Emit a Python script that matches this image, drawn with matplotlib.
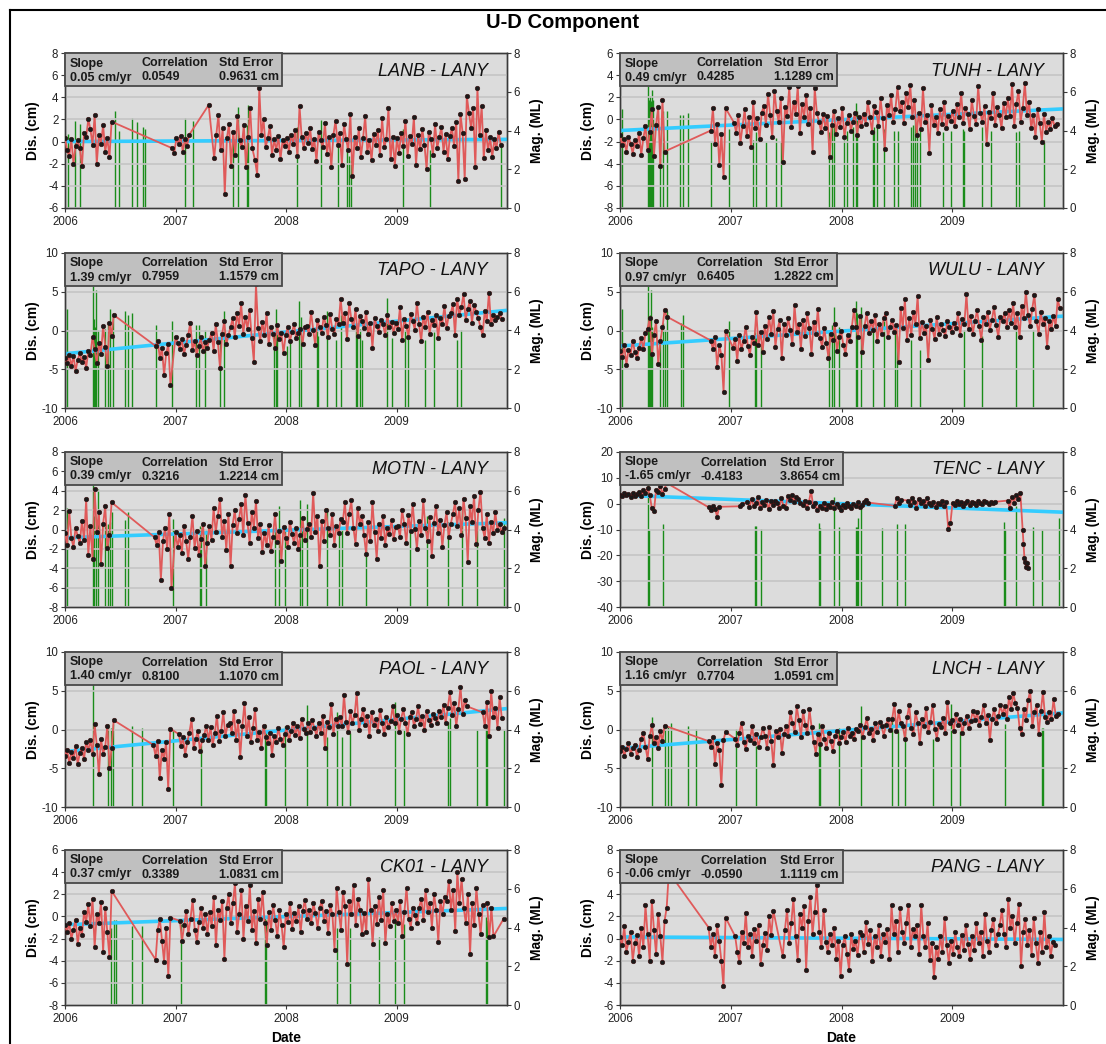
#GPS U-D component time series, 10 baselines relative to LANY, with nearby earthquakes
from matplotlib import pyplot as plt
from matplotlib.patches import Rectangle
from matplotlib.lines import Line2D

plt.rcParams['font.family'] = ['Liberation Sans', 'DejaVu Sans']
plt.rcParams['axes.unicode_minus'] = False

stations = ['LANB - LANY', 'TUNH - LANY', 'TAPO - LANY', 'WULU - LANY', 'MOTN - LANY',
            'TENC - LANY', 'PAOL - LANY', 'LNCH - LANY', 'CK01 - LANY', 'PANG - LANY']
slopes = ['0.05 cm/yr', '0.49 cm/yr', '1.39 cm/yr', '0.97 cm/yr', '0.39 cm/yr',
          '-1.65 cm/yr', '1.40 cm/yr', '1.16 cm/yr', '0.37 cm/yr', '-0.06 cm/yr']
correlations = ['0.0549', '0.4285', '0.7959', '0.6405', '0.3216',
                '-0.4183', '0.8100', '0.7704', '0.3389', '-0.0590']
std_errors = ['0.9631 cm', '1.1289 cm', '1.1579 cm', '1.2822 cm', '1.2214 cm',
              '3.8654 cm', '1.1070 cm', '1.0591 cm', '1.0831 cm', '1.1119 cm']
y_lo = [-6, -8, -10, -10, -8, -40, -10, -10, -8, -6]
y_hi = [8, 6, 10, 10, 8, 20, 10, 10, 6, 8]
y_step = [2, 2, 5, 5, 2, 10, 5, 5, 2, 2]
trend_2006 = [0.0, -1.0, -3.0, -2.0, -0.85, 3.3, -2.85, -2.45, -0.75, 0.15]   #fit line at 2006.0
trend_2010 = [0.2, 0.95, 2.6, 1.85, 0.7, -3.3, 2.7, 2.15, 0.72, -0.08]       #fit line at 2010.0

#segments: (start year, step in days, displacement values cm)
lanb_segs = [
    (2006.00, 7, "0.3 -0.8 -1.3 0.2 -2.0 -0.4 0.1 -0.6 -2.2 0.8 0.4 2.0 1.1 -0.3 2.4 -2.0 0.6 -0.2 1.5 -0.9 0.3 -1.4 1.8"),
    (2006.97, 7, "-0.6 -1.0 0.3 -0.2 0.5 -0.9 0.2 -0.4 0.6"),
    (2007.30, 7, "3.3"),
    (2007.35, 7, "-1.5 0.6 2.4 -0.8 1.2 -4.7 0.3 1.6 -2.2 0.9 -1.2 2.3 0.1 -0.5 1.5 -2.3 0.4 3.0 -0.6"),
    (2007.72, 7, "-1.7 -3.0 4.8 0.6 2.0 -0.5 0.3 1.4 -1.2 0.2 -0.8 0.5 -1.6 0.1 -0.4 "
                 "0.3 -0.9 0.6 -0.2 1.0 -1.3 3.2 0.4 -0.6 0.8 -0.1 1.2 -0.7 0.2 -1.8 0.9 0.1 -0.5 1.7 -1.1 0.4 -2.3 0.6 1.9 -0.3 0.8 "
                 "-2.1 1.6 0.2 -0.8 2.5 -3.1 0.4 -0.6 1.2 -1.4 0.3 2.3 -0.9 0.1 -1.7 0.7 -0.3 1.0 -1.2 2.1 -0.5 0.2 3.0 -1.6 0.4 -2.2 "
                 "0.3 -1.0 0.8 -0.4 1.9 -1.3 0.5 -0.2 2.2 -2.1 0.6 -0.7 1.1 -0.3 -2.5 0.9 0.2 -1.2 1.6 -0.6 0.4 1.3 -0.9 0.7 -1.6 0.5 "
                 "1.2 -0.4 1.8 -3.6 2.5 0.8 -3.4 4.1 2.6 1.2 3.0 -2.3 4.8 0.6 3.2 -1.5 1.0 -0.8 0.4 -1.4 0.2 -0.6 0.9 -0.3"),
]
tunh_segs = [
    (2006.00, 7, "-1.4 -2.3 -1.8 -2.9 -1.6 -2.2 -3.1 -1.9 -2.4 -1.2 -3.2 -1.7 -0.6 -2.8 -1.1 0.9 -3.3 -0.5 1.1 -4.2 1.8 -2.9"),
    (2006.82, 7, "-1.0 1.0 -2.2 -0.4 -4.1 -1.3 -5.2 1.0"),
    (2007.03, 7, "-0.3 -1.2 0.4 -2.1 -0.6 0.9 -1.5 0.2 -2.5 1.6 -0.8 0.1 -1.8 0.6 "
                 "1.2 -0.5 2.3 0.4 -1.6 2.6 0.8 -0.2 1.9 -3.8 1.1 0.3 2.9 -0.7 1.6 0.5 3.0 -1.2 1.4 0.2 2.2 -0.4 1.0 -2.9 2.8 0.6 "
                 "-0.2 -1.1 0.5 -0.8 0.3 -3.4 -0.5 0.8 -1.3 0.1 -0.7 1.0 -1.6 -0.3 0.4 -1.0 -0.2 0.6 -1.4 0.2 -0.6 "
                 "0.5 -0.4 1.6 0.2 -1.1 1.2 0.7 -0.6 1.9 0.1 -2.7 1.3 0.4 2.2 -0.2 0.9 "
                 "2.9 0.8 1.6 -0.3 2.4 1.1 3.1 0.2 1.8 -1.4 "
                 "0.6 -0.9 2.8 -0.2 0.4 -3.0 1.3 -0.5 0.2 -1.2 0.9 -0.4 1.6 -0.8 0.3 -0.1 "
                 "0.8 -0.6 1.4 0.2 2.4 -0.3 1.0 0.5 -0.9 1.8 0.3 -0.4 3.0 0.6 -0.2 1.2 -2.2 0.7 0.1 2.4 -0.5 1.1 0.4 -0.8 1.5 0.2 "
                 "1.9 0.3 3.2 -0.6 1.4 2.6 -0.2 1.0 3.3 0.4 "
                 "1.6 -0.8 0.4 -1.6 0.9 -0.3 -2.0 0.5 -1.1 -0.2 -0.9 0.1 -0.6 -0.4"),
]
tapo_segs = [
    (2006.00, 7, "-3.6 -4.2 -3.1 -4.6 -3.3 -5.2 -3.8 -2.9 -4.1 -3.4 -4.8 -2.6 -3.2 -0.8 -2.4 -4.2 -1.6 -3.0 0.6 -2.1 -4.6 1.0 -0.7 2.0"),
    (2006.82, 7, "-2.0 -1.3 -3.6 -2.2 -5.8 -2.9 -1.8 -7.0"),
    (2007.00, 7, "-0.8 -1.6 -2.4 -1.1 -3.0 -1.9 -0.6 1.0 -2.5 -1.4 -3.1 -2.0 -0.9 -2.7 -1.5 -2.2 "
                 "-1.2 -0.3 -2.6 0.8 -1.5 -4.8 -0.5 1.2 -1.8 -0.6 "
                 "0.4 1.6 -0.9 2.3 0.6 3.5 -0.4 1.8 0.2 2.7 "
                 "-1.0 -4.0 6.0 0.3 -1.3 1.1 -0.6 2.2 -1.8 0.5 -0.4 -2.2 0.7 -1.1 -0.3 -2.9 "
                 "-0.6 0.4 -1.4 -0.2 0.8 -1.0 -0.3 0.2 -1.7 0.5 "
                 "0.6 -0.5 2.4 0.1 -1.9 1.3 0.4 -0.3 1.8 0.7 -0.8 2.1 0.2 -0.4 1.5 0.9 "
                 "4.1 1.0 2.2 -1.1 3.6 1.5 0.4 2.8 -0.7 1.9 "
                 "1.2 0.3 2.4 -0.5 1.0 -2.2 1.6 0.6 -0.2 1.4 0.8 -0.6 2.0 0.4 1.1 -0.3 "
                 "1.0 0.2 3.0 -1.2 1.5 0.6 -0.8 2.1 1.2 0.1 3.6 0.8 -1.4 1.8 0.5 2.4 -0.4 1.3 0.7 2.0 -1.0 1.6 0.9 3.2 0.3 1.9 "
                 "2.2 3.4 -0.6 4.1 2.0 3.0 4.7 1.4 2.8 3.8 1.0 3.3 2.4 "
                 "1.6 0.4 -0.6 2.5 1.2 4.9 0.8 2.0 1.3 1.7 2.2 1.5"),
]
wulu_segs = [
    (2006.00, 7, "-2.7 -3.4 -1.9 -4.4 -2.5 -3.1 -1.3 -2.8 -3.6 -2.2 -1.0 -2.4 -0.3 0.2 1.6 -3.0 -0.6 1.2 -4.3 -1.4 0.4 2.6 1.8"),
    (2006.82, 7, "-1.3 -2.4 -0.8 -4.7 -1.9 -3.2 -7.9 -0.1"),
    (2007.02, 7, "-2.2 -1.1 -3.9 -0.6 -2.4 -1.3 0.5 -2.0 -3.1 -0.9 -1.6 2.4 -1.9 -0.2 -2.8 "
                 "0.6 -1.1 1.8 -0.5 2.5 -2.1 0.2 1.3 -3.5 0.8 -0.6 1.6 0.1 -1.8 3.3 -0.2 0.9 -2.4 1.4 -0.7 2.2 0.3 -3.0 1.1 -0.4 2.8 "
                 "-1.0 -2.1 0.3 -1.6 -3.5 -0.4 -1.2 0.8 -2.6 -0.8 -0.1 -1.9 -3.0 -0.6 -1.4 0.4 "
                 "2.7 0.4 -0.8 1.9 -2.8 0.6 2.3 -0.3 1.2 0.1 2.0 -1.4 0.8 -0.5 1.6 2.2 -0.9 0.5 1.4 -0.2 0.7 "
                 "-4.0 2.9 0.3 4.0 -1.2 1.6 -0.6 2.4 0.8 4.4 -1.0 1.1 -0.3 "
                 "0.6 -3.8 1.4 0.2 -1.1 1.8 -0.4 0.9 0.1 -0.7 1.2 0.4 -0.2 "
                 "1.0 0.3 2.2 -0.6 1.5 0.8 4.7 0.2 1.9 -0.4 1.2 2.6 0.6 -1.2 1.7 0.9 2.4 0.1 1.4 3.0 0.7 -0.8 1.8 1.2 2.3 0.5 "
                 "2.6 1.0 3.5 0.4 2.2 -0.9 3.1 1.6 5.0 2.0 0.6 2.8 4.6 1.2 -0.4 2.4 "
                 "0.8 1.6 -2.1 1.2 0.2 1.9 0.6 4.0 2.9"),
]
motn_segs = [
    (2006.00, 7, "-0.4 -1.6 1.9 -0.9 -1.8 0.2 -0.7 -1.4 0.9 -1.1 3.1 -2.6 0.4 -3.0 4.2 -0.3 1.8 -3.6 0.6 2.4 -1.9 -0.6 2.8"),
    (2006.81, 7, "-0.8 -1.6 -0.3 -5.2 -1.2 0.2 -2.0 1.6 -6.0"),
    (2007.00, 7, "-0.3 -1.8 -0.6 -2.4 0.4 -1.2 -3.0 -0.8 1.4 -1.9 -0.2 -2.6 -1.0 0.6 -3.8 -1.4 "
                 "0.4 -1.1 2.2 -0.3 1.4 3.2 -0.8 0.9 -2.1 1.6 -3.8 0.5 2.0 -0.4 1.1 2.6 -0.6 3.6 0.7 -1.4 1.8 0.2 2.9 -0.9 0.6 -2.3 "
                 "-0.4 -1.6 0.5 -2.2 -0.8 1.6 -1.3 -0.2 -3.2 0.3 -0.9 -1.8 0.8 -0.5 -1.4 0.2 -2.0 -0.6 1.2 -1.1 0.1 "
                 "0.6 -0.8 3.8 -0.3 1.4 -3.8 0.9 -1.2 2.0 0.2 -0.6 1.6 -1.6 0.4 -0.4 1.1 "
                 "0.8 2.8 -0.4 1.6 3.0 0.2 -1.5 2.2 0.6 1.4 "
                 "-0.6 -2.5 0.8 -1.2 2.8 -0.3 -3.0 0.6 -0.9 1.4 -1.6 0.2 -0.5 1.0 -1.0 0.3 "
                 "0.4 -0.8 2.0 0.6 -1.4 1.5 -0.2 2.6 0.1 -2.0 0.9 -0.6 3.0 0.2 -1.2 1.3 -2.7 0.7 2.4 -0.4 1.0 -1.8 0.5 1.8 -0.8 0.6 "
                 "1.6 2.8 0.4 2.2 -0.6 3.2 1.2 -3.4 2.4 0.8 3.5 -1.5 2.0 "
                 "3.9 0.2 -0.9 1.6 -1.4 0.8 -0.4 1.8 0.0 0.6 -0.3 0.2"),
]
tenc_segs = [
    (2006.00, 7, "3.4 2.8 4.1 3.2 3.8 2.6 4.3 3.0 3.6 4.4 3.1 5.2 4.0 6.1 3.3 -1.8 -3.0 5.4 4.6 6.8 3.9 5.8 8.0"),
    (2006.80, 7, "-1.4 -2.6 -0.8 -1.9 -5.0 -1.2"),
    (2007.08, 7, "-1.0 -0.2"),
    (2007.15, 7, "0.6 -1.4 1.8 -0.9 0.2 2.4 -1.8 0.5 -0.4 1.6 -2.2 0.9 -0.6 1.2 0.1 -1.5 2.0 -0.8 "
                 "-1.6 2.8 1.6 3.2 0.8 2.4 1.9 0.2 "
                 "-0.4 1.2 -1.8 0.6 5.0 -1.0 0.4 -2.6 "
                 "-0.8 -1.6 0.4 -2.2 -0.6 -1.2 0.8 -1.8 -0.3 -1.1 -2.4 -0.5 -1.4 0.2 -0.9 -1.7 -0.2 -1.0 0.5 -1.3 -0.4 0.8 1.6 0.4"),
    (2008.48, 7, "-0.8 2.2 0.4 1.5"),
    (2008.60, 7, "1.2 -0.4 2.3 0.6 -1.6 1.8 0.3 1.0 -0.8 2.0 "
                 "0.2 -0.6 0.8 -1.2 0.4 -0.3 1.1 -0.8 0.5 -9.8 -7.6 0.3 -0.5 0.9 -0.2 0.6 -1.0 0.4 1.2 -0.4 0.8 0.1 "
                 "-0.6 1.0 0.3 -0.2 0.9 0.5 -0.3 0.6 0.2 0.7"),
    (2009.50, 7, "1.2 -1.8 2.6 0.4 3.4 1.8 4.1"),
    (2009.635, 3, "-10.0 -15.6 -21.0 -22.4 -24.6 -23.1 -25.0"),
]
paol_segs = [
    (2006.00, 7, "-3.4 -2.6 -4.3 -2.9 -3.7 -2.1 -4.5 -3.0 -2.4 -3.8 -1.6 -2.7 -1.4 -3.2 0.7 -2.0 -5.8 -1.2 -3.1 -2.2 0.5 -5.0 -2.4 1.2"),
    (2006.80, 7, "-2.0 -3.4 -1.5 -6.3 -2.6 -3.8 -1.6 -7.7 0.1"),
    (2007.03, 7, "-0.6 -2.1 -1.0 -3.3 -1.6 -0.4 1.3 -2.4 -1.2 -0.2 -2.8 -1.4 -0.7 0.5 "
                 "-1.3 0.3 -2.0 -0.5 1.8 -1.5 -0.2 2.2 -0.9 0.6 "
                 "0.8 -0.4 2.4 -1.3 1.1 -3.5 0.5 3.4 -0.8 1.6 -1.6 0.2 2.6 "
                 "-1.4 -0.3 -2.4 0.5 -1.0 -1.8 -0.4 -3.3 -0.8 -1.6 0.2 -1.2 -2.0 "
                 "-0.6 0.3 -1.4 -0.2 0.9 -0.7 0.4 -1.1 1.4 0.1 -0.5 0.8 -0.3 1.2 0.2 -0.8 "
                 "0.9 -0.4 1.8 -2.4 1.0 0.3 3.3 -0.6 1.4 0.5 "
                 "1.6 0.4 4.5 1.0 -0.3 2.4 0.8 1.9 4.7 -0.1 1.3 2.6 0.6 1.8 -0.8 2.2 "
                 "0.6 1.4 -0.2 2.5 0.8 -0.6 1.6 0.3 1.1 3.0 "
                 "0.8 1.9 -0.3 1.4 2.6 0.9 -0.6 1.6 2.2 0.5 1.3 3.0 0.7 1.8 -0.1 2.4 1.2 0.6 2.0 1.5 0.9 "
                 "2.4 1.6 3.2 0.8 2.8 4.8 1.9 3.4 0.4 2.6 5.5 2.0 3.8 3.0"),
    (2009.78, 7, "2.2 0.4 3.6 -0.9 5.0 1.6 2.8 0.2 4.2 1.5"),
]
lnch_segs = [
    (2006.00, 7, "-2.8 -2.2 -3.4 -2.5 -1.8 -3.1 -2.4 -2.0 -3.5 -2.6 -1.2 -0.4 -2.2 -3.8 -0.9 0.6 -1.8 -1.0 -2.4 -0.2 -1.5 0.5"),
    (2006.80, 7, "-1.5 -2.3 -1.0 -4.5 -1.8 -2.6 -7.2 -1.4 -0.3"),
    (2007.04, 7, "-1.2 -2.0 -0.4 0.9 -1.6 -2.5 -0.8 -1.3 0.4 -1.8 -0.6 -2.2 -1.0 0.2 "
                 "-0.8 -2.4 0.3 -1.5 -4.6 -0.2 -1.0 0.1 -3.0 -0.6 "
                 "0.4 -0.8 2.2 0.9 -0.3 3.0 1.2 -1.0 2.4 0.6 -0.5 2.6 0.3 "
                 "-1.6 -3.1 -0.6 -1.9 0.5 -1.2 -2.4 -0.4 -1.5 -2.8 -0.9 -0.2 -1.7 "
                 "-1.0 -0.3 -1.6 0.2 -0.8 -0.4 -1.2 0.1 "
                 "-0.2 0.6 -1.0 0.3 1.5 -0.5 0.1 -1.4 0.8 -0.3 1.0 0.4 -0.8 0.6 1.3 0.0 "
                 "1.4 3.3 -0.2 2.4 0.8 "
                 "0.4 -1.2 1.6 3.1 0.2 -0.6 2.2 0.9 -1.8 1.3 0.5 2.8 -0.3 1.0 3.2 0.1 -1.2 0.7 "
                 "0.3 1.5 -0.4 3.6 0.8 1.2 -0.2 2.0 0.6 1.4 -0.5 0.9 1.8 0.2 1.1 2.4 "
                 "1.2 2.2 0.6 1.6 3.2 0.9 1.9 -1.4 1.4 2.6 0.8 1.7 3.1 "
                 "2.0 3.0 1.4 4.2 2.6 4.7 3.4 2.8 "
                 "0.2 -0.6 2.6 1.2 3.8 5.0 0.4 2.2 3.2 -0.6 "
                 "2.4 4.8 1.6 1.0 2.2 1.4 3.9 1.8 2.0"),
]
ck01_segs = [
    (2006.00, 7, "-0.8 -1.4 -0.6 -2.0 -1.2 -0.3 -2.5 -1.0 -1.7 0.4 -0.5 1.1 -0.9 1.6 -2.8 0.2 -0.6 1.3 -3.2 0.8 -1.4 -3.7 2.3"),
    (2006.82, 7, "-3.9 -1.2 -0.2 -2.2 -4.1 -1.0 -5.4 -0.1"),
    (2007.04, 7, "-0.4 -2.2 -0.8 0.5 -1.6 -0.2 1.5 -1.2 -2.3 -0.5 0.8 -1.0 0.2 -1.6 "
                 "0.4 -0.9 1.8 -2.6 0.6 -0.3 1.4 -3.8 0.8 2.0 -0.6 1.2 3.0 -1.4 0.2 2.4 -2.0 0.9 -0.4 2.8 -1.2 0.5 -2.4 1.6 -0.2 2.2 "
                 "-0.6 -2.6 0.4 -1.2 1.0 -0.3 -1.8 0.6 -0.8 -2.8 0.2 -0.5 1.2 -1.1 0.3 -0.4 0.9 -1.4 0.5 1.5 -0.2 "
                 "0.6 -0.6 1.2 0.3 -1.0 0.8 1.4 -0.4 0.5 -1.5 1.0 0.2 -3.0 "
                 "2.6 0.4 -1.2 2.2 0.9 -4.3 1.4 0.2 2.8 -0.8 1.6 0.6 -1.6 "
                 "0.3 -1.4 3.4 0.6 -2.5 0.9 -0.7 1.8 -0.3 2.4 -2.4 0.2 -0.9 1.2 -0.4 0.6 "
                 "-0.6 1.4 -1.8 0.4 2.6 -0.2 -1.0 0.8 0.1 -0.6 "
                 "0.8 1.6 -0.3 2.4 0.4 1.2 -1.0 2.0 0.6 -2.3 1.4 0.2 1.8 "
                 "1.4 3.2 0.6 2.4 -1.3 4.0 1.2 3.4 "
                 "0.8 -0.6 2.0 -3.4 1.2 -0.8 2.6 0.2 -1.6 1.0"),
    (2009.82, 7, "1.2 -1.9 0.8 -1.8"),
    (2009.97, 7, "-0.2"),
]
pang_segs = [
    (2006.00, 7, "0.1 -0.6 1.1 -1.2 -0.3 0.6 -2.0 -0.4 0.3 -1.6 1.0 -0.8 3.0 0.4 -2.0 3.4 0.8 -1.4 2.2 0.2 -2.1 1.6 2.8 6.0"),
    (2006.80, 7, "1.0 -0.8 0.4 -1.6 1.2 -0.2 -2.0 -4.3 1.9"),
    (2007.04, 7, "0.2 -1.2 -2.1 0.6 -0.4 2.3 -0.8 0.4 -1.6 0.9 -0.2 1.2 -2.3 -0.6 0.5 -1.0 2.0 0.3 2.5"),
    (2007.47, 7, "-1.6 0.8 2.6 -0.4 1.4 3.6 0.2 -1.9 2.2 1.0 2.9 -2.8 1.6 3.8 0.4 2.4 4.8"),
    (2007.80, 7, "0.6 -0.8 2.6 -0.3 -1.2 0.4 -0.6 1.0 -1.8 -0.2 "
                 "-3.4 -0.6 0.2 -1.4 -2.8 0.4 -0.9 -0.2 -1.5 0.6 "
                 "0.3 -1.2 1.5 -0.5 0.8 -2.0 0.2 -0.8 1.2 -1.6 0.4 -0.3 0.9 "
                 "-1.8 3.0 0.4 1.6 -1.2 2.8 0.6 -0.4 1.4 3.0 -0.8 0.9 0.2 "
                 "1.2 -1.4 3.0 0.2 -0.8 1.4 -1.9 -0.4 "
                 "-3.5 -0.8 -1.8 0.2 -1.2 1.9 -0.6 -2.2 -0.2 -1.4 0.6 -0.8 -1.6 0.3 -1.0 1.2 -0.5 -1.8 "
                 "0.2 -1.0 1.4 -0.4 0.6 -1.6 2.2 -0.2 -1.2 0.8 1.8 -0.6 0.4 "
                 "1.2 2.6 0.4 -0.8 3.6 1.0 2.0 -0.4 1.4 3.1 -2.5 0.6 1.8 "
                 "-0.6 0.8 -1.5 1.9 -0.4 -2.2 0.6 -1.2 2.4 -0.8 0.2 -1.6 -0.3 -0.6"),
]

#earthquakes: (date, magnitude ML)
lanb_eq = [(2006.026, 3.8), (2006.094, 4.5), (2006.14, 4.35), (2006.45, 5.0), (2006.49, 4.0), (2006.61, 4.67),
           (2006.65, 4.43), (2006.71, 4.2), (2006.72, 4.1), (2007.09, 4.65), (2007.16, 4.5), (2007.52, 3.5),
           (2007.57, 5.2), (2007.65, 4.3), (2007.66, 5.3), (2008.10, 4.2), (2008.32, 4.55), (2008.47, 3.4),
           (2008.55, 3.2), (2008.57, 2.7), (2008.59, 2.5), (2009.06, 4.1), (2009.30, 3.0), (2009.95, 3.4)]
tunh_eq = [(2006.016, 5.1), (2006.25, 6.3), (2006.26, 5.6), (2006.27, 5.8), (2006.28, 5.5), (2006.29, 6.1),
           (2006.30, 5.6), (2006.36, 2.6), (2006.39, 5.0), (2006.42, 5.0), (2006.54, 4.8), (2006.57, 4.8),
           (2006.61, 4.9), (2006.82, 3.4), (2006.98, 4.1), (2007.20, 3.5), (2007.23, 3.9), (2007.32, 3.4),
           (2007.41, 3.6), (2007.45, 3.4), (2007.89, 3.9), (2007.91, 4.2), (2007.93, 5.1), (2008.02, 3.5),
           (2008.05, 4.0), (2008.10, 4.2), (2008.13, 5.4), (2008.14, 5.0), (2008.28, 4.0), (2008.29, 4.2),
           (2008.32, 4.4), (2008.38, 4.1), (2008.47, 4.0), (2008.51, 4.0), (2008.63, 4.2), (2008.65, 4.3),
           (2008.66, 4.6), (2008.68, 4.1), (2008.71, 4.2), (2008.92, 3.9), (2008.99, 4.0), (2009.10, 4.1),
           (2009.11, 4.0), (2009.27, 4.2), (2009.35, 4.0), (2009.58, 3.9), (2009.60, 4.0), (2009.83, 3.5)]
tapo_eq = [(2006.016, 5.1), (2006.25, 6.3), (2006.26, 4.6), (2006.27, 4.2), (2006.28, 6.1), (2006.30, 4.0),
           (2006.36, 4.1), (2006.39, 4.3), (2006.41, 5.1), (2006.43, 4.9), (2006.54, 5.0), (2006.57, 4.8),
           (2006.61, 4.9), (2006.82, 4.3), (2006.97, 4.5), (2007.19, 4.3), (2007.21, 4.3), (2007.27, 4.0),
           (2007.40, 3.6), (2007.44, 5.0), (2007.89, 3.7), (2007.91, 5.1), (2007.92, 4.0), (2008.01, 3.2),
           (2008.04, 3.5), (2008.12, 5.5), (2008.14, 4.7), (2008.28, 4.2), (2008.29, 3.7), (2008.37, 5.0),
           (2008.45, 3.5), (2008.50, 4.8), (2008.63, 4.3), (2008.64, 3.9), (2008.67, 4.1), (2008.69, 3.5),
           (2008.91, 5.7), (2008.96, 3.6), (2009.08, 4.0), (2009.10, 3.7), (2009.26, 3.5), (2009.34, 3.9),
           (2009.55, 3.5), (2009.58, 4.0)]
wulu_eq = [(2006.016, 5.1), (2006.25, 6.3), (2006.26, 4.5), (2006.27, 4.8), (2006.28, 6.1), (2006.29, 4.2),
           (2006.36, 3.5), (2006.39, 4.4), (2006.41, 4.0), (2006.42, 5.0), (2006.55, 4.4), (2006.57, 4.8),
           (2006.98, 4.5), (2007.22, 3.9), (2007.23, 3.7), (2007.27, 3.3), (2007.89, 4.0), (2007.91, 4.3),
           (2007.93, 5.2), (2007.98, 4.2), (2008.13, 5.5), (2008.14, 4.9), (2008.18, 5.2), (2008.28, 4.2),
           (2008.38, 4.5), (2008.48, 4.0), (2008.50, 3.7), (2008.63, 3.5), (2008.71, 3.0), (2009.11, 4.0),
           (2009.27, 3.7), (2009.58, 4.2), (2009.73, 4.0)]
motn_eq = [(2006.016, 5.1), (2006.25, 6.3), (2006.265, 4.7), (2006.28, 4.2), (2006.295, 6.1), (2006.36, 4.2),
           (2006.39, 4.3), (2006.405, 4.4), (2006.425, 4.9), (2006.54, 4.5), (2006.57, 4.9), (2006.98, 4.55),
           (2007.22, 4.2), (2007.23, 4.1), (2007.28, 4.0), (2007.90, 4.1), (2007.94, 5.2), (2007.99, 4.0),
           (2008.13, 5.5), (2008.145, 4.7), (2008.19, 5.3), (2008.37, 5.1), (2008.48, 4.3), (2008.51, 4.0),
           (2008.72, 3.0), (2009.12, 4.2), (2009.28, 4.7), (2009.47, 4.4), (2009.59, 5.0), (2009.73, 4.3),
           (2009.97, 4.6)]
tenc_eq = [(2006.25, 6.4), (2006.26, 4.0), (2006.39, 4.3), (2007.22, 4.2), (2007.23, 4.2), (2007.27, 4.05),
           (2007.80, 4.35), (2007.81, 4.1), (2007.93, 5.7), (2007.98, 4.15), (2008.13, 4.15), (2008.14, 4.15),
           (2008.15, 4.6), (2008.18, 5.2), (2008.37, 4.1), (2008.50, 4.3), (2008.57, 4.3), (2009.47, 4.4),
           (2009.48, 4.05), (2009.58, 5.2), (2009.73, 4.15), (2009.81, 4.0), (2009.96, 4.6)]
paol_eq = [(2006.25, 6.4), (2006.39, 4.3), (2006.42, 4.1), (2006.43, 4.3), (2006.61, 4.2), (2006.70, 4.1),
           (2006.98, 4.0), (2007.23, 3.2), (2007.81, 4.3), (2007.82, 3.9), (2007.99, 4.2), (2008.19, 5.25),
           (2008.37, 3.6), (2008.46, 4.9), (2008.51, 3.6), (2008.58, 3.8), (2008.99, 5.4), (2009.07, 4.0),
           (2009.47, 4.4), (2009.48, 4.6), (2009.73, 4.0), (2009.81, 4.1), (2009.82, 4.1), (2009.97, 4.0)]
lnch_eq = [(2006.29, 4.65), (2006.41, 4.2), (2006.43, 4.2), (2006.46, 4.35), (2006.61, 4.2), (2006.69, 4.05),
           (2007.05, 4.05), (2007.23, 3.15), (2007.80, 4.35), (2007.81, 4.1), (2007.98, 4.1), (2008.18, 5.2),
           (2008.46, 4.7), (2008.51, 3.9), (2008.57, 3.9), (2008.83, 3.5), (2008.99, 5.3), (2009.07, 3.9),
           (2009.48, 4.3), (2009.81, 4.1), (2009.82, 4.1)]
ck01_eq = [(2006.42, 4.0), (2006.44, 4.4), (2006.46, 4.4), (2006.61, 4.1), (2006.70, 4.1), (2007.05, 4.2),
           (2007.81, 4.5), (2007.82, 4.4), (2008.46, 4.0), (2008.58, 3.95), (2008.84, 3.5), (2008.99, 4.5),
           (2009.07, 4.2), (2009.81, 4.55), (2009.82, 4.4)]
pang_eq = []

segments = [lanb_segs, tunh_segs, tapo_segs, wulu_segs, motn_segs,
            tenc_segs, paol_segs, lnch_segs, ck01_segs, pang_segs]
quakes = [lanb_eq, tunh_eq, tapo_eq, wulu_eq, motn_eq,
          tenc_eq, paol_eq, lnch_eq, ck01_eq, pang_eq]
years = [2006, 2007, 2008, 2009]


def series(segs):                   #segments -> dates, values
    t, v = [], []
    for start, step, vals in segs:
        vals = [float(s) for s in vals.split()]
        t += [start + i * step / 365.25 for i in range(len(vals))]
        v += vals
    return t, v


W, H = 1106.0, 1044.0
col_left = [65, 620]
col_width = [442, 443]
row_top = [53, 253, 452, 652, 850]
ax_h = 155
spine_c = '#3a3a3a'

fig = plt.figure(figsize=(W / 100, H / 100), dpi=100)

for k in range(10):
    r, c = divmod(k, 2)
    pw = col_width[c]
    axm = fig.add_axes([col_left[c] / W, 1 - (row_top[r] + ax_h) / H, pw / W, ax_h / H])
    axm.set_facecolor('#dcdcdc')
    axd = axm.twinx()
    axm.yaxis.tick_right()
    axm.yaxis.set_label_position('right')
    axd.yaxis.tick_left()
    axd.yaxis.set_label_position('left')

    #earthquake bars on the magnitude axis
    if quakes[k]:
        qt = [q[0] for q in quakes[k]]
        qm = [q[1] for q in quakes[k]]
        axm.vlines(qt, 0, qm, color='#1a8c1a', lw=1.0, zorder=2)

    t, v = series(segments[k])
    axd.plot([2006, 2010], [trend_2006[k], trend_2010[k]], color='#33ccff', lw=2.6,
             solid_capstyle='butt', zorder=2)
    axd.plot(t, v, color='#e05a5a', lw=1.3, marker='o', ms=3.3, mfc='#1a1a1a', mec='#3a1010',
             mew=0.4, zorder=3)

    axm.set_xlim(2006, 2010)
    axm.set_xticks(years)
    axm.set_xticklabels([str(y) for y in years])
    axm.set_ylim(0, 8)
    axm.set_yticks([0, 2, 4, 6, 8])
    axd.set_ylim(y_lo[k], y_hi[k])
    axd.set_yticks(list(range(y_lo[k], y_hi[k] + 1, y_step[k])))
    axd.set_axisbelow(True)
    axd.grid(axis='y', color='#c4c4c4', lw=1.2)

    for a in (axm, axd):
        for s in a.spines.values():
            s.set_color(spine_c)
            s.set_linewidth(1.0)
        a.tick_params(labelsize=8.3, length=3, width=0.8, pad=1.8, color=spine_c, labelcolor='#222222')
    axm.tick_params(axis='x', pad=2.5)

    #stats box
    wide = slopes[k].startswith('-')
    bw = (223 if wide else 217) / pw
    bh = 33.0 / ax_h
    axd.add_patch(Rectangle((0, 1 - bh), bw, bh, transform=axd.transAxes, facecolor='#c0c0c0',
                            edgecolor='#484848', lw=1.3, zorder=10, clip_on=False))
    xs = [5, 80, 160] if wide else [5, 76, 154]
    heads = ['Slope', 'Correlation', 'Std Error']
    vals = [slopes[k], correlations[k], std_errors[k]]
    for j in range(3):
        axd.text(xs[j] / pw, 1 - 10.5 / ax_h, heads[j], transform=axd.transAxes, fontsize=9,
                 fontweight='bold', va='center', color='#1a1a1a', zorder=11)
        axd.text(xs[j] / pw, 1 - 24.5 / ax_h, vals[j], transform=axd.transAxes, fontsize=9,
                 fontweight='bold', va='center', color='#1a1a1a', zorder=11)
    axd.text(1 - 19.0 / pw, 1 - 18.0 / ax_h, stations[k], transform=axd.transAxes, ha='right',
             va='center', style='italic', fontsize=13, color='#111111', zorder=11)

    axd.set_ylabel('Dis. (cm)', fontsize=10, fontweight='bold')
    axd.yaxis.set_label_coords(-25.0 / pw, 0.5)
    axm.set_ylabel('Mag. (ML)', fontsize=10, fontweight='bold', rotation=90)
    axm.yaxis.set_label_coords(1 + 23.0 / pw, 0.5)
    if r == 4:
        axm.set_xlabel('Date', fontsize=10, fontweight='bold')
        axm.xaxis.set_label_coords(0.5, -26.0 / ax_h)

fig.text(563 / W, 1 - 23.0 / H, 'U-D Component', ha='center', va='center', fontsize=14.5, fontweight='bold')
#outer frame (top and left edges)
fig.add_artist(Line2D([10 / W, 1], [1 - 9.5 / H, 1 - 9.5 / H], color='black', lw=1.5, transform=fig.transFigure))
fig.add_artist(Line2D([10 / W, 10 / W], [0, 1 - 9.5 / H], color='black', lw=1.5, transform=fig.transFigure))

fig.savefig('out.png', dpi=100)
